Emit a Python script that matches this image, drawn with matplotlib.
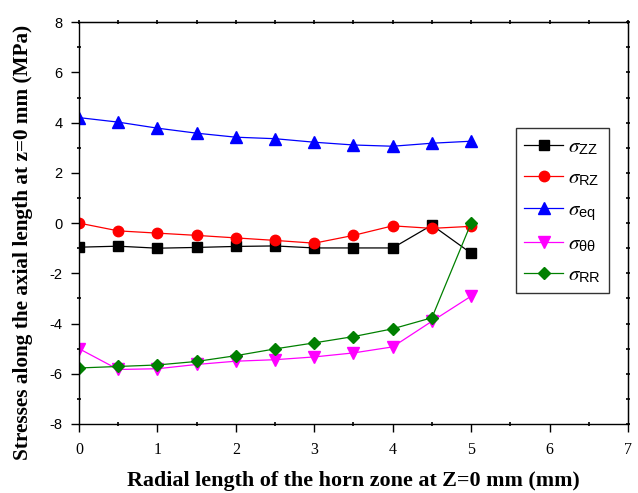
import numpy as np
import matplotlib
matplotlib.use("Agg")
import matplotlib.pyplot as plt
from matplotlib.ticker import MultipleLocator

# ── data ─────────────────────────────────────────────────────────────────────
radial_mm = [0, 0.5, 1, 1.5, 2, 2.5, 3, 3.5, 4, 4.5, 5]

sigma_zz = [-0.96, -0.92, -1.0, -0.97, -0.93, -0.91, -0.99, -0.99, -0.99, -0.08, -1.2]
sigma_rz = [0.0, -0.31, -0.4, -0.49, -0.59, -0.69, -0.8, -0.49, -0.11, -0.21, -0.13]
sigma_eq = [4.2, 4.02, 3.78, 3.58, 3.42, 3.36, 3.22, 3.11, 3.06, 3.18, 3.26]
sigma_tt = [-5.0, -5.83, -5.8, -5.63, -5.5, -5.44, -5.33, -5.17, -4.93, -3.91, -2.91]
sigma_rr = [-5.77, -5.71, -5.65, -5.51, -5.28, -5.01, -4.77, -4.52, -4.21, -3.77, 0.0]

series = [
    (sigma_zz, 'k',       's', r'$\sigma_{\mathrm{ZZ}}$'),
    (sigma_rz, 'red',     'o', r'$\sigma_{\mathrm{RZ}}$'),
    (sigma_eq, 'blue',    '^', r'$\sigma_{\mathrm{eq}}$'),
    (sigma_tt, 'magenta', 'v', r'$\sigma_{\mathrm{\theta\theta}}$'),
    (sigma_rr, 'green',   'D', r'$\sigma_{\mathrm{RR}}$'),
]

# serif italic sigma, sans subscripts
plt.rcParams['mathtext.fontset'] = 'custom'
plt.rcParams['mathtext.it'] = 'STIXGeneral:italic'
plt.rcParams['mathtext.rm'] = 'Liberation Sans'
plt.rcParams['axes.unicode_minus'] = False

fig = plt.figure(figsize=(6.38, 4.93), dpi=100)
ax = fig.add_axes([0.1238, 0.140, 0.8605, 0.815])

for vals, col, mk, lab in series:
    ms = {'s': 7.5, 'o': 7.5, 'D': 6.5, '^': 8.5, 'v': 8.5}[mk]
    ax.plot(radial_mm, vals, color=col, lw=0.9, marker=mk, markersize=ms,
            markeredgecolor=col, markerfacecolor=col, label=lab)

ax.set_xlim(0, 7)
ax.set_ylim(-8, 8)
ax.xaxis.set_major_locator(MultipleLocator(1))
ax.xaxis.set_minor_locator(MultipleLocator(0.5))
ax.yaxis.set_major_locator(MultipleLocator(2))
ax.yaxis.set_minor_locator(MultipleLocator(1))

ax.tick_params(which='major', direction='out', length=6, width=1.0,
               top=False, right=False)
ax.tick_params(which='minor', direction='inout', length=2.5, width=1.2,
               top=False, right=False)
ax.tick_params(axis='x', which='major', pad=7)
ax.tick_params(axis='y', which='major', pad=6)
for sp in ax.spines.values():
    sp.set_linewidth(1.0)

# small ticks along the top and right frame
ax_top = ax.secondary_xaxis('top')
ax_top.xaxis.set_major_locator(MultipleLocator(0.5))
ax_top.tick_params(direction='inout', length=2.5, width=1.2, labeltop=False)
ax_right = ax.secondary_yaxis('right')
ax_right.yaxis.set_major_locator(MultipleLocator(1))
ax_right.tick_params(direction='inout', length=2.5, width=1.2, labelright=False)

for lbl in ax.get_xticklabels():
    lbl.set_fontfamily('Liberation Serif')
    lbl.set_fontsize(11.5)
for lbl in ax.get_yticklabels():
    lbl.set_fontfamily('Liberation Sans')
    lbl.set_fontsize(10.5)

ax.set_xlabel('Radial length of the horn zone at Z=0 mm (mm)',
              family='Liberation Serif', weight='bold', fontsize=15.8, labelpad=9)
ax.set_ylabel('Stresses along the axial length at z=0 mm (MPa)',
              family='Liberation Serif', weight='bold', fontsize=15.3,
              labelpad=12, y=0.453)

leg = ax.legend(loc='upper left', bbox_to_anchor=(0.796, 0.736), fontsize=15,
                frameon=True, fancybox=False, edgecolor='k', handlelength=1.85,
                borderpad=0.4, labelspacing=0.5, handletextpad=0.25,
                borderaxespad=0)
leg.get_frame().set_linewidth(1.0)

fig.savefig('out.png', dpi=100)
